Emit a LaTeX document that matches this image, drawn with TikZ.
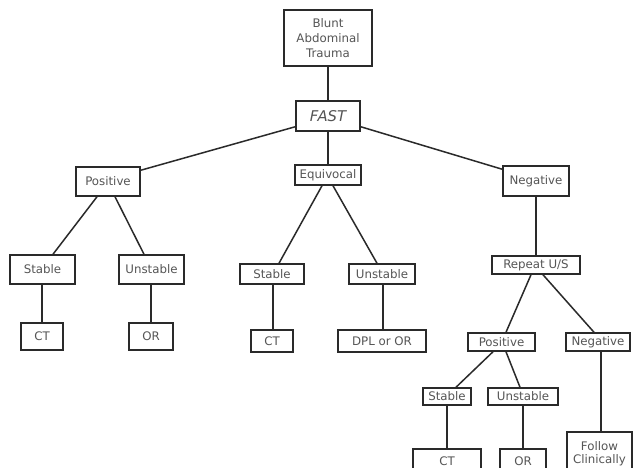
\documentclass[tikz,border=0pt]{standalone}
\usepackage{fontspec}
\setmainfont{DejaVu Sans}
\usetikzlibrary{calc}
\definecolor{linec}{HTML}{2A2A2A}
\definecolor{textc}{HTML}{555555}
\tikzset{
  box/.style={draw=linec, line width=1.5pt, fill=white, inner sep=0pt, text=textc,
    font=\fontsize{11.8}{15}\selectfont, align=center},
  conn/.style={draw=linec, line width=1.5pt}
}
\newcommand{\bx}[6]{\node[box, minimum width=#4pt, minimum height=#5pt] (#1) at (#2,#3) {#6};}
\begin{document}
\begin{tikzpicture}[x=1pt,y=-1pt]
\clip (0,0) rectangle (633,468);
\fill[white] (0,0) rectangle (633,468);
% nodes
\bx{bat}{328}{38}{88}{56}{Blunt\\Abdominal\\Trauma}
\node[box, minimum width=64pt, minimum height=30pt, font=\fontsize{14.8}{16}\selectfont\itshape] (fast) at (328,116) {FAST};
\bx{pos1}{108}{181.5}{64}{29}{Positive}
\bx{equ}{328}{175}{66}{20}{Equivocal}
\bx{neg1}{536}{181}{66}{30}{Negative}
\bx{st1}{42.5}{269.5}{65}{29}{Stable}
\bx{un1}{151.5}{269.5}{65}{29}{Unstable}
\bx{st2}{272}{274}{64}{20}{Stable}
\bx{un2}{382}{274}{66}{20}{Unstable}
\bx{rep}{536}{265}{88}{18}{Repeat U/S}
\bx{ct1}{42}{336.5}{42}{27}{CT}
\bx{or1}{151}{336.5}{44}{27}{OR}
\bx{ct2}{272}{341}{42}{22}{CT}
\bx{dpl}{382}{341}{88}{22}{DPL or OR}
\bx{pos2}{501.5}{342}{67}{18}{Positive}
\bx{neg2}{598}{342}{64}{18}{Negative}
\bx{st3}{447}{396.5}{48}{17}{Stable}
\bx{un3}{523}{396.5}{70}{17}{Unstable}
\node[box, minimum width=68pt, minimum height=24pt, anchor=north] (ct3) at (447,448) {\raisebox{-3pt}{CT}};
\node[box, minimum width=46pt, minimum height=24pt, anchor=north] (or3) at (523,448) {\raisebox{-3pt}{OR}};
\node[box, minimum width=65pt, minimum height=44pt, anchor=north] (fol) at (599.5,431) {\raisebox{-2pt}{\shortstack{Follow\\[1pt]Clinically}}};
% connectors
\draw[conn] (bat.south) -- (fast.north);
\draw[conn] ($(fast.south west)+(0,-5)$) -- ($(pos1.north east)+(0,4)$);
\draw[conn] (fast.south) -- (equ.north);
\draw[conn] ($(fast.south east)+(0,-5)$) -- ($(neg1.north west)+(0,4)$);
\draw[conn] ($(pos1.south)+(-11,0)$) -- ($(st1.north)+(10.5,0)$);
\draw[conn] ($(pos1.south)+(7,0)$) -- ($(un1.north)+(-7.5,0)$);
\draw[conn] ($(equ.south)+(-6,0)$) -- ($(st2.north)+(7,0)$);
\draw[conn] ($(equ.south)+(5,0)$) -- ($(un2.north)+(-5,0)$);
\draw[conn] (neg1.south) -- (rep.north);
\draw[conn] (ct1.north |- st1.south) -- (ct1.north);
\draw[conn] (or1.north |- un1.south) -- (or1.north);
\draw[conn] ($(st2.south)+(1,0)$) -- ($(ct2.north)+(1,0)$);
\draw[conn] ($(un2.south)+(1,0)$) -- ($(dpl.north)+(1,0)$);
\draw[conn] ($(rep.south)+(-5,0)$) -- ($(pos2.north)+(4.5,0)$);
\draw[conn] ($(rep.south)+(7,0)$) -- ($(neg2.north)+(-4,0)$);
\draw[conn] ($(pos2.south)+(-8.5,0)$) -- ($(st3.north)+(9,0)$);
\draw[conn] ($(pos2.south)+(4.5,0)$) -- ($(un3.north)+(-3,0)$);
\draw[conn] (st3.south) -- (ct3.north);
\draw[conn] (un3.south) -- (or3.north);
\draw[conn] ($(neg2.south)+(3,0)$) -- ($(fol.north)+(1.5,0)$);
\end{tikzpicture}
\end{document}
